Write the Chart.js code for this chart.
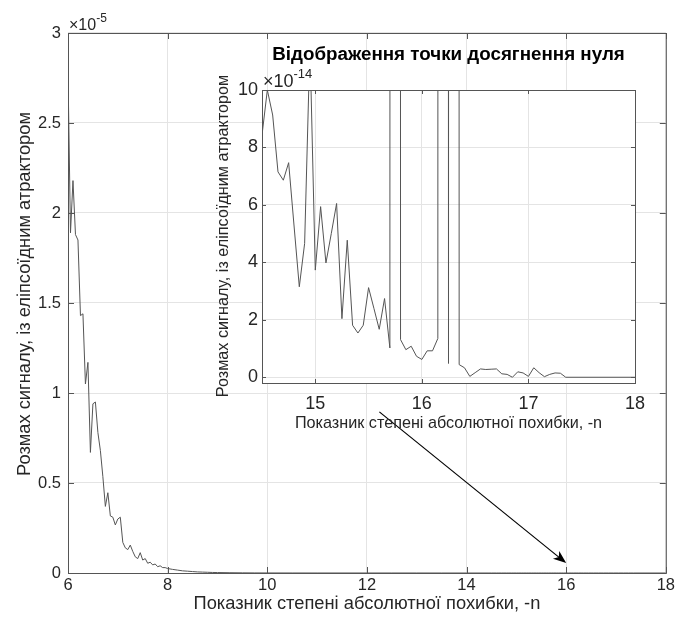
<!DOCTYPE html>
<html>
<head>
<meta charset="utf-8">
<title>Розмах сигналу</title>
<script src="https://cdn.jsdelivr.net/npm/chart.js@4"></script>
<style>
  body { margin: 0; background: #fff; }
  #wrap { position: relative; width: 678px; height: 619px; }
  #mainChart { position: absolute; left: 0; top: 0; }
  #insetChart { position: absolute; left: 200px; top: 40px; }
</style>
</head>
<body>
<div id="wrap">
  <canvas id="mainChart" width="678" height="619"></canvas>
  <canvas id="insetChart" width="460" height="400"></canvas>
</div>
<script>
// exponent n of the absolute error (x) and signal span (y)
const exponents = [
  6, 6.05, 6.1, 6.15, 6.2, 6.25, 6.3, 6.35, 6.4, 6.45, 6.5, 6.55, 6.6, 6.65, 6.7, 6.75, 6.8, 6.85, 6.9, 6.95,
  7, 7.05, 7.1, 7.15, 7.2, 7.25, 7.3, 7.35, 7.4, 7.45, 7.5, 7.55, 7.6, 7.65, 7.7, 7.75, 7.8, 7.85, 7.9, 7.95,
  8, 8.1, 8.2, 8.3, 8.4, 8.5, 8.6, 8.7, 8.8, 8.9, 9,
  9.25, 9.5, 9.75, 10, 10.5, 11, 11.5, 12, 12.5, 13, 13.5, 14, 14.25, 14.45,
  14.5, 14.55, 14.6, 14.65, 14.7, 14.75, 14.8, 14.85, 14.9, 14.95,
  15, 15.05, 15.1, 15.15, 15.2, 15.25, 15.3, 15.35, 15.4, 15.45,
  15.5, 15.55, 15.6, 15.65, 15.7, 15.75, 15.8, 15.85, 15.9, 15.95,
  16, 16.05, 16.1, 16.15, 16.2, 16.25, 16.3, 16.35, 16.4, 16.45,
  16.5, 16.55, 16.6, 16.65, 16.7, 16.75, 16.8, 16.85, 16.9, 16.95,
  17, 17.05, 17.1, 17.15, 17.2, 17.25, 17.3, 17.35, 18
];
const spans = [
  2.78e-5, 1.89e-5, 2.18e-5, 1.88e-5, 1.85e-5, 1.43e-5, 1.44e-5, 1.05e-5, 1.17e-5, 0.67e-5,
  0.94e-5, 0.95e-5, 0.78e-5, 0.68e-5, 0.535e-5, 0.37e-5, 0.446e-5, 0.317e-5, 0.31e-5, 0.267e-5,
  0.30e-5, 0.31e-5, 0.17e-5, 0.14e-5, 0.13e-5, 0.155e-5, 0.12e-5, 0.09e-5, 0.08e-5, 0.113e-5,
  0.072e-5, 0.08e-5, 0.054e-5, 0.06e-5, 0.045e-5, 0.05e-5, 0.035e-5, 0.04e-5, 0.03e-5, 0.03e-5,
  0.025e-5, 0.02e-5, 0.016e-5, 0.012e-5, 0.01e-5, 0.008e-5, 0.006e-5, 0.005e-5, 0.004e-5, 0.003e-5, 0.0025e-5,
  1.5e-8, 9e-9, 5e-9, 3e-9, 1e-9, 3.5e-10, 1.2e-10, 4e-11, 1.5e-11, 5e-12, 1.6e-12, 5e-13, 2.2e-13, 1.1e-13,
  8.43e-14, 10.0e-14, 9.13e-14, 7.15e-14, 6.86e-14, 7.47e-14, 5.3e-14, 3.15e-14, 4.66e-14, 11.6e-14,
  3.73e-14, 5.94e-14, 3.98e-14, 5.0e-14, 6.05e-14, 2.04e-14, 4.77e-14, 1.81e-14, 1.54e-14, 1.81e-14,
  3.12e-14, 2.4e-14, 1.67e-14, 2.74e-14, 1.02e-14, 1e-11, 1.31e-14, 0.96e-14, 1.08e-14, 0.73e-14,
  0.62e-14, 0.92e-14, 0.92e-14, 1.35e-14, 1e-11, 0.48e-14, 1e-11, 0.44e-14, 0.33e-14, 0.03e-14,
  0.16e-14, 0.29e-14, 0.27e-14, 0.28e-14, 0.29e-14, 0.12e-14, 0.10e-14, 0, 0.19e-14, 0.15e-14,
  0.03e-14, 0.33e-14, 0.16e-14, 0.02e-14, 0.10e-14, 0.15e-14, 0.14e-14, 0, 0
];

const mainXTicks = [6, 8, 10, 12, 14, 16, 18];
const mainYTicks = [0, 0.5, 1, 1.5, 2, 2.5, 3];      // x 1e-5
const insetXTicks = [15, 16, 17, 18];
const insetYTicks = [0, 2, 4, 6, 8, 10];             // x 1e-14

const xTitle = 'Показник степені абсолютної похибки, -n';
const yTitle = 'Розмах сигналу, із еліпсоїдним атрактором';
const insetTitle = 'Відображення точки досягнення нуля';

// arrow from the inset down to the zero point
const arrowFrom = { x: 12.25, y: 0.895e-5 };
const arrowTo = { x: 16, y: 0.055e-5 };

const FONT = "'Liberation Sans', Arial, sans-serif";
const INK = '#262626';
const GRID = '#e4e4e4';
const BOX = '#555555';

const points = exponents.map((x, i) => ({ x, y: spans[i] }));

function fmt(v, unit) {
  return String(+(v / unit).toFixed(2));
}

// matlab-like box with inward ticks
function boxPlugin(tickLen, fillWhite) {
  return {
    id: 'box',
    beforeDraw(chart) {
      if (!fillWhite) return;
      const { ctx, chartArea: a } = chart;
      ctx.save();
      ctx.fillStyle = '#fff';
      ctx.fillRect(a.left, a.top, a.right - a.left, a.bottom - a.top);
      ctx.restore();
    },
    afterDraw(chart) {
      const { ctx, chartArea: a, scales: { x, y } } = chart;
      ctx.save();
      ctx.strokeStyle = BOX;
      ctx.lineWidth = 1;
      ctx.beginPath();
      x.ticks.forEach(t => {
        const px = Math.round(x.getPixelForValue(t.value)) + 0.5;
        ctx.moveTo(px, a.bottom); ctx.lineTo(px, a.bottom - tickLen);
        ctx.moveTo(px, a.top); ctx.lineTo(px, a.top + tickLen);
      });
      y.ticks.forEach(t => {
        const py = Math.round(y.getPixelForValue(t.value)) + 0.5;
        ctx.moveTo(a.left, py); ctx.lineTo(a.left + tickLen, py);
        ctx.moveTo(a.right, py); ctx.lineTo(a.right - tickLen, py);
      });
      ctx.stroke();
      ctx.strokeRect(a.left + 0.5, a.top + 0.5, a.right - a.left, a.bottom - a.top);
      ctx.restore();
    }
  };
}

function exponentLabel(ctx, x, y, size, supSize, power) {
  ctx.save();
  ctx.fillStyle = INK;
  ctx.textAlign = 'left';
  ctx.textBaseline = 'alphabetic';
  ctx.font = size + 'px ' + FONT;
  ctx.fillText('×10', x, y);
  const w = ctx.measureText('×10').width;
  ctx.font = supSize + 'px ' + FONT;
  ctx.fillText(power, x + w, y - size * 0.5);
  ctx.restore();
}

const mainExtras = {
  id: 'mainExtras',
  afterDraw(chart) {
    const { ctx, chartArea: a, scales: { x, y } } = chart;
    ctx.save();
    ctx.fillStyle = INK;
    ctx.font = '18.3px ' + FONT;
    ctx.textAlign = 'center';
    ctx.textBaseline = 'alphabetic';
    ctx.fillText(xTitle, (a.left + a.right) / 2, 609);
    ctx.translate(30, 294);
    ctx.rotate(-Math.PI / 2);
    ctx.fillText(yTitle, 0, 0);
    ctx.restore();

    exponentLabel(ctx, a.left + 1, 30, 16, 12, '-5');

    // arrow
    const x0 = x.getPixelForValue(arrowFrom.x), y0 = y.getPixelForValue(arrowFrom.y);
    const x1 = x.getPixelForValue(arrowTo.x), y1 = y.getPixelForValue(arrowTo.y);
    const ang = Math.atan2(y1 - y0, x1 - x0);
    const len = 13, half = 5, notch = 3.5;
    ctx.save();
    ctx.strokeStyle = '#000';
    ctx.fillStyle = '#000';
    ctx.lineWidth = 1.2;
    ctx.beginPath();
    ctx.moveTo(x0, y0);
    ctx.lineTo(x1 - Math.cos(ang) * (len - notch), y1 - Math.sin(ang) * (len - notch));
    ctx.stroke();
    ctx.translate(x1, y1);
    ctx.rotate(ang);
    ctx.beginPath();
    ctx.moveTo(0, 0);
    ctx.lineTo(-len, -half);
    ctx.lineTo(-len + notch, 0);
    ctx.lineTo(-len, half);
    ctx.closePath();
    ctx.fill();
    ctx.restore();
  }
};

const insetExtras = {
  id: 'insetExtras',
  afterDraw(chart) {
    const { ctx, chartArea: a } = chart;
    ctx.save();
    ctx.fillStyle = '#000';
    ctx.font = 'bold 18.8px ' + FONT;
    ctx.textAlign = 'center';
    ctx.textBaseline = 'alphabetic';
    ctx.fillText(insetTitle, (a.left + a.right) / 2, 19.5);
    ctx.fillStyle = INK;
    ctx.font = '16.2px ' + FONT;
    ctx.fillText(xTitle, (a.left + a.right) / 2, 388);
    ctx.translate(28, 196);
    ctx.rotate(-Math.PI / 2);
    ctx.fillText(yTitle, 0, 0);
    ctx.restore();

    exponentLabel(ctx, a.left + 1, 47, 18, 13, '-14');
  }
};

function axisOptions(min, max, tickVals, unit, size, pad, fixed, isX) {
  return {
    type: 'linear',
    min, max,
    afterBuildTicks: s => { s.ticks = tickVals.map(v => ({ value: v * unit })); },
    afterFit: s => { if (isX) s.height = fixed; else s.width = fixed; },
    grid: { color: GRID, lineWidth: 1, drawTicks: false },
    border: { display: false },
    ticks: {
      color: INK,
      padding: pad,
      maxRotation: 0,
      autoSkip: false,
      font: { family: FONT, size },
      callback: v => fmt(v, unit)
    }
  };
}

const lineDataset = {
  data: points,
  borderColor: '#555555',
  borderWidth: 1,
  pointRadius: 0,
  tension: 0,
  fill: false
};

new Chart(document.getElementById('mainChart'), {
  type: 'line',
  data: { datasets: [Object.assign({}, lineDataset)] },
  options: {
    responsive: false,
    animation: false,
    layout: { padding: { left: 0, right: 10, top: 33, bottom: 0 } },
    plugins: { legend: { display: false }, tooltip: { enabled: false } },
    scales: {
      x: axisOptions(6, 18, mainXTicks, 1, 16.5, 3, 46, true),
      y: axisOptions(0, 3e-5, mainYTicks, 1e-5, 16.5, 7, 68, false)
    }
  },
  plugins: [boxPlugin(6, false), mainExtras]
});

new Chart(document.getElementById('insetChart'), {
  type: 'line',
  data: { datasets: [Object.assign({}, lineDataset)] },
  options: {
    responsive: false,
    animation: false,
    layout: { padding: { left: 0, right: 25, top: 50, bottom: 0 } },
    plugins: { legend: { display: false }, tooltip: { enabled: false } },
    scales: {
      x: axisOptions(14.5, 18, insetXTicks, 1, 18, 10, 57, true),
      y: axisOptions(-0.2e-14, 10e-14, insetYTicks, 1e-14, 18, 4, 62, false)
    }
  },
  plugins: [boxPlugin(4, true), insetExtras]
});
</script>
</body>
</html>
